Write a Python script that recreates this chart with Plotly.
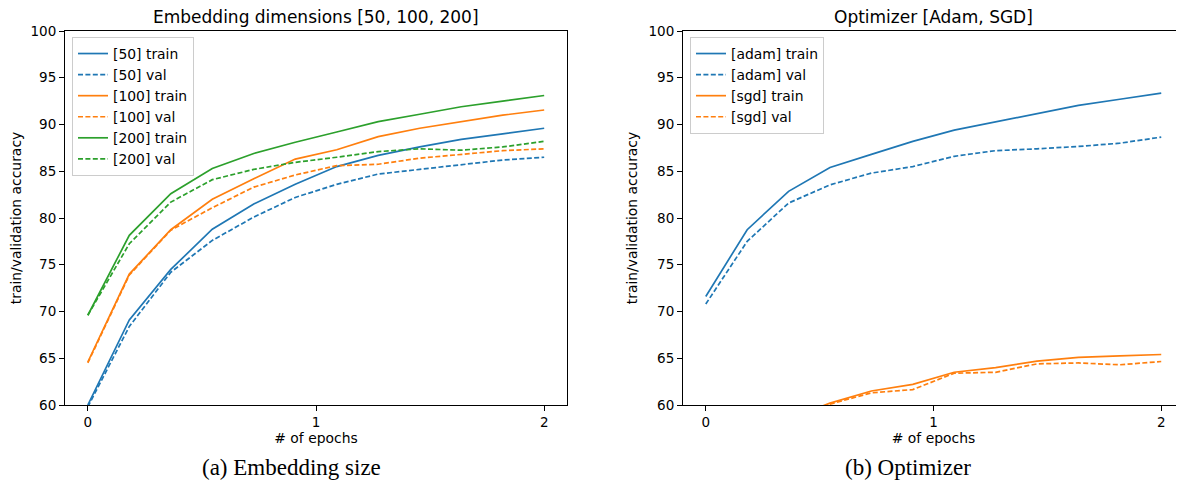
import plotly.graph_objects as go

# the page body has an 8px default margin; the figure is sized to fit the window
OFF = 8
W, H = 1184 - OFF, 485 - OFF

epochs = [i * 2 / 11 for i in range(12)]

emb50_train = [60.0, 69.1, 74.5, 78.8, 81.5, 83.6, 85.5, 86.7, 87.6, 88.4, 89.0, 89.6]
emb50_val = [59.8, 68.4, 74.2, 77.6, 80.1, 82.2, 83.6, 84.7, 85.2, 85.7, 86.2, 86.5]
emb100_train = [64.6, 74.0, 78.75, 82.0, 84.2, 86.3, 87.3, 88.7, 89.6, 90.3, 91.0, 91.55]
emb100_val = [64.5, 73.9, 78.7, 81.1, 83.3, 84.6, 85.6, 85.75, 86.4, 86.8, 87.2, 87.4]
emb200_train = [69.6, 78.15, 82.6, 85.3, 86.9, 88.1, 89.2, 90.3, 91.1, 91.9, 92.5, 93.1]
emb200_val = [69.6, 77.25, 81.7, 84.1, 85.2, 85.95, 86.5, 87.1, 87.4, 87.25, 87.6, 88.2]

adam_train = [71.6, 78.75, 82.85, 85.4, 86.8, 88.2, 89.4, 90.3, 91.2, 92.05, 92.7, 93.35]
adam_val = [70.8, 77.5, 81.6, 83.55, 84.8, 85.5, 86.6, 87.2, 87.4, 87.65, 88.0, 88.65]
sgd_train = [52.0, 56.0, 58.5, 60.2, 61.5, 62.2, 63.5, 64.0, 64.7, 65.1, 65.25, 65.4]
sgd_val = [51.8, 55.8, 58.4, 60.1, 61.3, 61.65, 63.4, 63.5, 64.4, 64.5, 64.3, 64.65]

x_ticks = [0, 1, 2]
y_ticks = [60, 65, 70, 75, 80, 85, 90, 95, 100]

BLUE, ORANGE, GREEN = "#1f77b4", "#ff7f0e", "#2ca02c"
DASH = "5px,2.4px"
LW = 1.7

left_series = [
    ("[50] train", emb50_train, BLUE, "solid"),
    ("[50] val", emb50_val, BLUE, DASH),
    ("[100] train", emb100_train, ORANGE, "solid"),
    ("[100] val", emb100_val, ORANGE, DASH),
    ("[200] train", emb200_train, GREEN, "solid"),
    ("[200] val", emb200_val, GREEN, DASH),
]
right_series = [
    ("[adam] train", adam_train, BLUE, "solid"),
    ("[adam] val", adam_val, BLUE, DASH),
    ("[sgd] train", sgd_train, ORANGE, "solid"),
    ("[sgd] val", sgd_val, ORANGE, DASH),
]

fig = go.Figure()
for name, ys, col, dash in left_series:
    fig.add_trace(go.Scatter(x=epochs, y=ys, name=name, mode="lines",
                             line=dict(color=col, width=LW, dash=dash),
                             xaxis="x", yaxis="y", legend="legend"))
for name, ys, col, dash in right_series:
    fig.add_trace(go.Scatter(x=epochs, y=ys, name=name, mode="lines",
                             line=dict(color=col, width=LW, dash=dash),
                             xaxis="x2", yaxis="y2", legend="legend2"))

def px_x(p):
    return (p - OFF) / W

def px_y(p):
    return 1 - (p - OFF) / H

L1, R1 = 65, 567
L2, R2 = 683, 1184
TOP, BOT = 31, 405

FONT = "DejaVu Sans"
TICKFONT = dict(family=FONT, size=13.5, color="black")
LABFONT = dict(family=FONT, size=13.9, color="black")

axis_common = dict(showline=True, linecolor="black", linewidth=1, mirror=True,
                   ticks="outside", ticklen=5, tickwidth=1, tickcolor="black",
                   showgrid=False, zeroline=False, tickfont=TICKFONT, automargin=False)

fig.update_layout(
    template="none",
    width=W, height=H,
    margin=dict(l=0, r=0, t=0, b=0, pad=0, autoexpand=False),
    plot_bgcolor="white", paper_bgcolor="white",
    showlegend=True,
    xaxis=dict(domain=[px_x(L1), min(1.0, px_x(R1))], range=[-0.1, 2.1], tickvals=x_ticks,
               anchor="y", title=dict(text="# of epochs", font=LABFONT, standoff=4),
               **axis_common),
    yaxis=dict(domain=[px_y(BOT), px_y(TOP)], range=[60, 100], tickvals=y_ticks,
               anchor="x", title=dict(text="train/validation accuracy", font=LABFONT, standoff=7),
               **axis_common),
    xaxis2=dict(domain=[px_x(L2), min(1.0, px_x(R2))], range=[-0.1, 2.1], tickvals=x_ticks,
                anchor="y2", title=dict(text="# of epochs", font=LABFONT, standoff=4),
                **axis_common),
    yaxis2=dict(domain=[px_y(BOT), px_y(TOP)], range=[60, 100], tickvals=y_ticks,
                anchor="x2", title=dict(text="train/validation accuracy", font=LABFONT, standoff=7),
                **axis_common),
    legend=dict(x=px_x(72), y=px_y(37), xanchor="left", yanchor="top",
                bgcolor="rgba(255,255,255,0.8)", bordercolor="#cccccc", borderwidth=1,
                font=LABFONT, tracegroupgap=0, itemwidth=30),
    legend2=dict(x=px_x(690), y=px_y(37), xanchor="left", yanchor="top",
                 bgcolor="rgba(255,255,255,0.8)", bordercolor="#cccccc", borderwidth=1,
                 font=LABFONT, tracegroupgap=0, itemwidth=30),
    annotations=[
        dict(text="Embedding dimensions [50, 100, 200]", x=px_x((L1 + R1) / 2), y=px_y(17.5),
             xref="paper", yref="paper", showarrow=False, xanchor="center", yanchor="middle",
             font=dict(family=FONT, size=17, color="black")),
        dict(text="Optimizer [Adam, SGD]", x=px_x((L2 + R2) / 2), y=px_y(17.5),
             xref="paper", yref="paper", showarrow=False, xanchor="center", yanchor="middle",
             font=dict(family=FONT, size=17, color="black")),
        dict(text="(a) Embedding size", x=px_x(291), y=px_y(467),
             xref="paper", yref="paper", showarrow=False, xanchor="center", yanchor="middle",
             font=dict(family="Liberation Serif", size=23, color="black")),
        dict(text="(b) Optimizer", x=px_x(908), y=px_y(467),
             xref="paper", yref="paper", showarrow=False, xanchor="center", yanchor="middle",
             font=dict(family="Liberation Serif", size=23, color="black")),
    ],
)

fig.write_html("out.html")
